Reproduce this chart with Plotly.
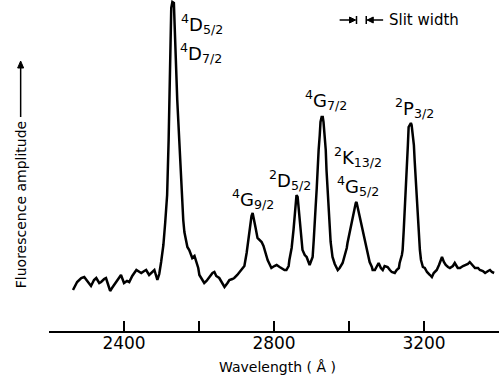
import plotly.graph_objects as go

# Spectrum: wavelength (Å) and fluorescence amplitude (arb. units)
wavelength = [
    2264, 2275, 2286, 2294, 2302, 2312, 2320, 2326, 2334, 2339, 2347, 2352, 2358, 2363, 2368,
    2374, 2382, 2392, 2400, 2408, 2414, 2422, 2433, 2441, 2446, 2454, 2459, 2467, 2473, 2481,
    2489, 2494, 2499, 2505, 2510, 2515, 2519, 2522, 2524, 2526, 2529, 2533, 2535, 2538, 2542,
    2546, 2550, 2554, 2558, 2561, 2563, 2566, 2569, 2574, 2582, 2588, 2593, 2598, 2601, 2606,
    2614, 2620, 2628, 2636, 2641, 2646, 2654, 2662, 2668, 2676, 2681, 2689, 2694, 2702, 2708,
    2713, 2716, 2721, 2727, 2732, 2735, 2737, 2740, 2743, 2745, 2748, 2751, 2756, 2761, 2767,
    2772, 2775, 2780, 2783, 2788, 2793, 2801, 2807, 2815, 2820, 2828, 2833, 2839, 2841, 2847,
    2852, 2855, 2857, 2860, 2863, 2865, 2868, 2871, 2873, 2876, 2882, 2887, 2890, 2895, 2898,
    2903, 2906, 2908, 2911, 2914, 2916, 2919, 2922, 2924, 2927, 2930, 2932, 2935, 2938, 2940,
    2943, 2946, 2948, 2951, 2956, 2962, 2970, 2975, 2983, 2988, 2994, 2996, 3002, 3007, 3010,
    3015, 3018, 3020, 3023, 3028, 3034, 3036, 3042, 3045, 3050, 3055, 3061, 3063, 3069, 3074,
    3079, 3085, 3090, 3095, 3103, 3109, 3114, 3122, 3127, 3133, 3135, 3141, 3143, 3146, 3149,
    3151, 3154, 3157, 3159, 3162, 3165, 3167, 3170, 3173, 3175, 3178, 3181, 3183, 3186, 3189,
    3192, 3197, 3202, 3208, 3216, 3221, 3226, 3234, 3240, 3248, 3253, 3258, 3264, 3269, 3277,
    3282, 3290, 3296, 3304, 3309, 3317, 3322, 3330, 3336, 3344, 3349, 3357, 3363, 3371, 3376,
    3381, 3387,
]
amplitude = [
    12.3, 14.7, 15.9, 16.2, 15.0, 13.5, 15.3, 15.9, 14.4, 14.7, 15.6, 15.9, 13.8, 12.0, 12.9,
    13.8, 15.0, 16.8, 14.4, 15.0, 14.7, 16.5, 18.3, 17.7, 17.4, 18.0, 18.3, 16.8, 17.4, 18.3,
    15.3, 17.1, 20.7, 25.8, 32.7, 40.8, 57.3, 72.3, 87.3, 96.9, 98.7, 98.4, 91.8, 81.3, 69.3,
    60.3, 51.3, 40.8, 33.3, 29.7, 28.5, 27.9, 25.2, 24.3, 21.9, 22.5, 20.7, 18.9, 16.8, 15.9,
    14.4, 15.0, 16.2, 17.4, 17.7, 16.5, 15.9, 14.1, 13.2, 14.4, 15.3, 15.6, 15.9, 16.8, 17.7,
    18.3, 18.9, 19.5, 23.4, 27.9, 30.3, 32.7, 34.5, 35.4, 34.5, 32.4, 30.9, 27.9, 27.3, 26.7,
    25.5, 24.3, 22.8, 21.3, 20.1, 18.9, 19.5, 19.8, 19.2, 18.9, 18.3, 18.3, 19.5, 21.3, 24.9,
    30.3, 33.9, 38.4, 40.8, 40.2, 37.8, 34.2, 29.7, 26.4, 24.3, 22.8, 22.2, 21.3, 19.8, 20.7,
    22.2, 27.3, 32.7, 37.2, 42.9, 48.3, 54.3, 58.8, 62.7, 64.2, 64.2, 62.7, 58.8, 54.3, 48.3,
    42.3, 37.2, 31.8, 26.7, 22.2, 20.1, 18.3, 18.9, 20.4, 22.2, 24.9, 26.4, 29.7, 32.7, 34.2,
    36.9, 38.4, 38.7, 37.2, 34.2, 31.8, 30.9, 27.3, 25.8, 23.4, 20.7, 19.2, 18.3, 18.3, 19.2,
    20.4, 18.9, 18.3, 19.5, 19.2, 18.3, 17.7, 17.4, 18.3, 18.9, 20.4, 22.8, 24.3, 30.3, 36.3,
    41.4, 48.3, 55.8, 61.2, 62.1, 62.4, 61.8, 59.4, 55.8, 51.3, 45.3, 39.9, 34.2, 28.8, 24.3,
    21.3, 19.2, 18.9, 17.7, 16.8, 16.2, 17.4, 18.3, 19.8, 22.2, 20.7, 19.8, 19.2, 18.9, 19.5,
    20.4, 18.9, 18.9, 19.5, 19.8, 20.1, 20.7, 19.5, 18.9, 18.9, 18.3, 18.0, 17.4, 18.0, 18.3,
    17.7, 17.4,
]

major_ticks = [2400, 2800, 3200]
major_labels = ["2400", "2800", "3200"]
minor_ticks = [2200, 2600, 3000]

# Level labels and their positions (wavelength, amplitude)
level_labels = [
    "<sup>4</sup>D<sub>5/2</sub>", "<sup>4</sup>D<sub>7/2</sub>", "<sup>4</sup>G<sub>9/2</sub>",
    "<sup>2</sup>D<sub>5/2</sub>", "<sup>4</sup>G<sub>7/2</sub>", "<sup>2</sup>K<sub>13/2</sub>",
    "<sup>4</sup>G<sub>5/2</sub>", "<sup>2</sup>P<sub>3/2</sub>",
]
label_wavelength = [2607, 2605, 2745, 2843, 2938, 3023, 3023, 3175]
label_amplitude = [92.0, 83.4, 39.6, 45.3, 69.3, 52.2, 43.5, 66.9]

slit_left = 3020
slit_right = 3046
slit_level = 93.3
slit_arrow_len = 45  # Å, length of the arrow shafts

FONT = "DejaVu Sans"

fig = go.Figure()
fig.add_trace(go.Scatter(
    x=wavelength, y=amplitude, mode="lines",
    line=dict(color="black", width=2.5),
    showlegend=False, hoverinfo="skip",
))

annotations = []
for txt, lx, ly in zip(level_labels, label_wavelength, label_amplitude):
    annotations.append(dict(
        x=lx, y=ly, xref="x", yref="y", text=txt, showarrow=False,
        xanchor="center", yanchor="middle",
        font=dict(family=FONT, size=18, color="black"),
    ))

annotations.append(dict(
    x=3100, y=slit_level, xref="x", yref="y", text="Slit width", showarrow=False,
    xanchor="left", yanchor="middle",
    font=dict(family=FONT, size=15, color="black"),
))

# y axis title
annotations.append(dict(
    x=-0.063, y=0.382, xref="paper", yref="paper", text="Fluorescence amplitude",
    textangle=-90, showarrow=False, xanchor="center", yanchor="middle",
    font=dict(family=FONT, size=14, color="black"),
))
# x axis title
annotations.append(dict(
    x=0.5085, y=-0.11, xref="paper", yref="paper", text="Wavelength ( Å )",
    showarrow=False, xanchor="center", yanchor="middle",
    font=dict(family=FONT, size=14, color="black"),
))

shapes = []
# slit width marker: bars, shafts and arrowheads
for sx in (slit_left, slit_right):
    shapes.append(dict(
        type="line", xref="x", yref="y", x0=sx, x1=sx,
        y0=slit_level - 1.2, y1=slit_level + 1.2,
        line=dict(color="black", width=1.5),
    ))
shapes.append(dict(type="line", xref="x", yref="y",
                   x0=slit_left - slit_arrow_len, x1=slit_left - 3,
                   y0=slit_level, y1=slit_level, line=dict(color="black", width=1.5)))
shapes.append(dict(type="line", xref="x", yref="y",
                   x0=slit_right + 3, x1=slit_right + slit_arrow_len,
                   y0=slit_level, y1=slit_level, line=dict(color="black", width=1.5)))
shapes.append(dict(type="path", xref="x", yref="y",
                   xsizemode="pixel", ysizemode="pixel",
                   xanchor=slit_left, yanchor=slit_level,
                   path="M-1,0 L-7,3 L-7,-3 Z",
                   fillcolor="black", line=dict(color="black", width=1)))
shapes.append(dict(type="path", xref="x", yref="y",
                   xsizemode="pixel", ysizemode="pixel",
                   xanchor=slit_right, yanchor=slit_level,
                   path="M1,0 L7,3 L7,-3 Z",
                   fillcolor="black", line=dict(color="black", width=1)))
# arrow next to the y axis title
shapes.append(dict(type="line", xref="paper", yref="paper",
                   x0=-0.063, x1=-0.063, y0=0.6465, y1=0.80,
                   line=dict(color="black", width=1.5)))
shapes.append(dict(type="path", xref="paper", yref="paper",
                   xsizemode="pixel", ysizemode="pixel",
                   xanchor=-0.063, yanchor=0.8157,
                   path="M0,0 L-3,-7 L3,-7 Z",
                   fillcolor="black", line=dict(color="black", width=1)))

fig.update_layout(
    width=499, height=381,
    margin=dict(l=49, r=0, t=0, b=50),
    paper_bgcolor="white", plot_bgcolor="white",
    annotations=annotations, shapes=shapes,
    xaxis=dict(
        range=[2200, 3400], showgrid=False, zeroline=False,
        showline=True, linecolor="black", linewidth=2,
        ticks="inside", ticklen=10, tickwidth=2, tickcolor="black",
        tickvals=major_ticks, ticktext=major_labels, ticklabelstandoff=-4,
        tickfont=dict(family=FONT, size=17, color="black"),
        minor=dict(tickvals=minor_ticks, ticks="inside", ticklen=10,
                   tickwidth=2, tickcolor="black", showgrid=False),
    ),
    yaxis=dict(range=[0, 99.3], visible=False),
)

fig.write_html("out.html")
